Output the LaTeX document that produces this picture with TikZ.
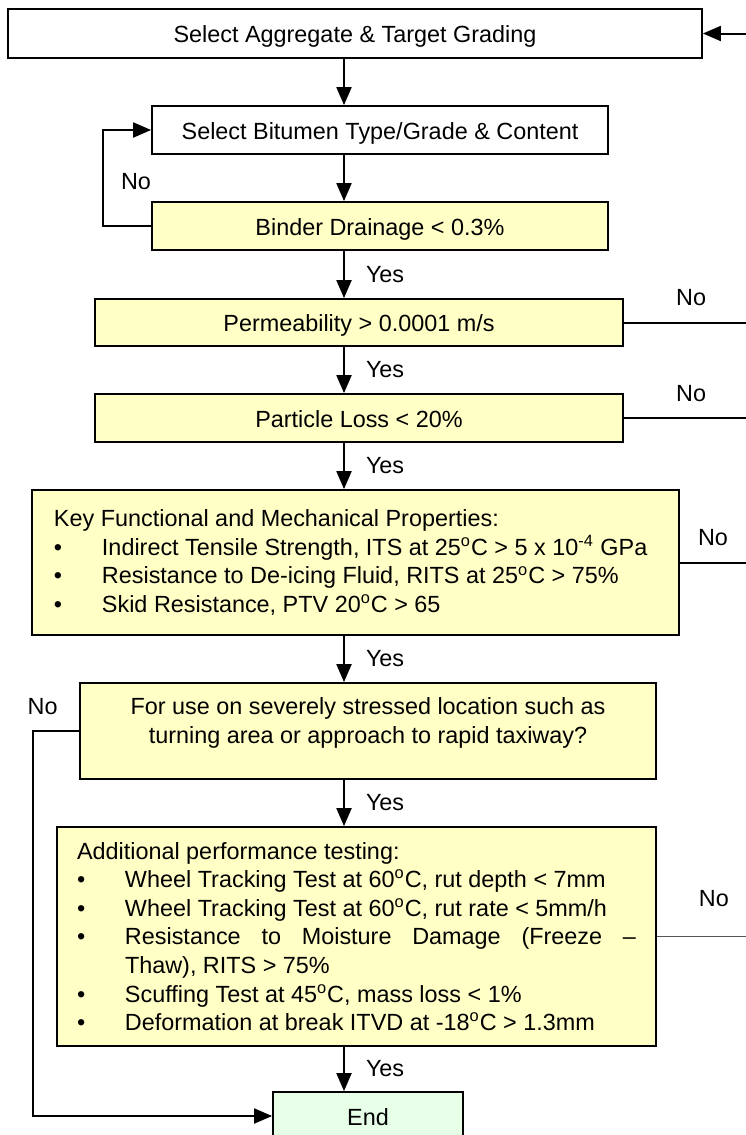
\documentclass[tikz,border=0pt]{standalone}
\usepackage{fontspec}
\setmainfont{Liberation Sans}
\usetikzlibrary{arrows.meta, positioning, calc}
\definecolor{flowYellow}{HTML}{FFFFC6}
\definecolor{flowGreen}{HTML}{E6FFE6}
\definecolor{flowGrey}{HTML}{555555}
\newcommand{\critem}[1]{\par\hangindent=24pt\hangafter=1\noindent\makebox[24pt][l]{\textbullet}#1}
\newcommand{\degC}{\textsuperscript{o}C}

\begin{document}
\begin{tikzpicture}[
        x=0.5pt, y=-0.5pt,
        font=\fontsize{11.7pt}{14.3pt}\selectfont,
        base/.style={rectangle, draw=black, line width=0.9pt, inner sep=0pt, minimum height=24pt, align=center},
        box/.style={base, fill=white, text height=9.9pt, text depth=0.5pt},
        check/.style={box, fill=flowYellow},
        panel/.style={base, fill=flowYellow},
        listbox/.style={panel, align=justify},
        endbox/.style={box, fill=flowGreen},
        arrow/.style={line width=1pt, -{Triangle[length=9pt, width=7.5pt]}},
        link/.style={line width=1pt},
        yes/.style={right=10.5pt, inner sep=0pt},
        no/.style={inner sep=0pt}
    ]
        \useasboundingbox (0,0) rectangle (745,1135);

        % --- Selection steps ---
        \node[box, minimum width=347pt, minimum height=24.5pt] (agg) at (355,33.5) {Select Aggregate \& Target Grading};
        \node[box, minimum width=228pt] (bit) at (380,130) {Select Bitumen Type/Grade \& Content};
        \node[check, minimum width=228pt] (drain) at (380,226) {Binder Drainage < 0.3\%};
        \node[check, minimum width=264pt, minimum height=23.5pt] (perm) at (359,322.5) {Permeability > 0.0001 m/s};
        \node[check, minimum width=264pt] (loss) at (359,418) {Particle Loss < 20\%};

        % --- Property checks ---
        \node[listbox, minimum width=323.5pt, minimum height=72.5pt, text width=301.5pt] (props) at (355.5,562.5) {\noindent Key Functional and Mechanical Properties:
            \critem{\mbox{Indirect Tensile Strength, ITS at 25\degC{} > 5 x 10\textsuperscript{-4} GPa}}
            \critem{Resistance to De-icing Fluid, RITS at 25\degC{} > 75\%}
            \critem{Skid Resistance, PTV 20\degC{} > 65}};
        \node[panel, minimum width=288pt, minimum height=48pt] (sev) at (368,731) {For use on severely stressed location such as\\turning area or approach to rapid taxiway?\\[-4pt]\mbox{}};
        \node[listbox, minimum width=299.5pt, minimum height=109.5pt, text width=279.5pt] (perf) at (356.5,936.5) {\noindent Additional performance testing:
            \critem{Wheel Tracking Test at 60\degC, rut depth < 7mm}
            \critem{Wheel Tracking Test at 60\degC, rut rate < 5mm/h}
            \critem{Resistance to Moisture Damage (Freeze --\linebreak Thaw), RITS > 75\%}
            \critem{Scuffing Test at 45\degC, mass loss < 1\%}
            \critem{Deformation at break ITVD at -18\degC{} > 1.3mm}};
        \node[endbox, minimum width=95pt] (fin) at (368,1116) {End};

        % --- Helper points ---
        \coordinate (axis) at (344,0);
        \coordinate (inR) at (746,33.5);
        \coordinate (permR) at (746,322.5);
        \coordinate (lossR) at (746,418);
        \coordinate (propsR) at (746,562.5);
        \coordinate (perfR) at (746,936.5);
        \coordinate (sevL) at (33,731);

        % --- Main chain ---
        \draw[arrow] (inR) -- (agg.east);
        \draw[arrow] (agg.south -| axis) -- (bit.north -| axis);
        \draw[arrow] (bit.south -| axis) -- (drain.north -| axis);
        \draw[arrow] (drain.west) -- ++(-48,0) |- node[no, pos=0.23, right=8.5pt] {No} (bit.west);
        \draw[arrow] (drain.south -| axis) -- node[yes] {Yes} (perm.north -| axis);
        \draw[arrow] (perm.south -| axis) -- node[yes] {Yes} (loss.north -| axis);
        \draw[arrow] (loss.south -| axis) -- node[yes] {Yes} (props.north -| axis);
        \draw[arrow] (props.south -| axis) -- node[yes] {Yes} (sev.north -| axis);
        \draw[arrow] (sev.south -| axis) -- node[yes] {Yes} (perf.north -| axis);
        \draw[arrow] (perf.south -| axis) -- node[yes] {Yes} (fin.north -| axis);

        % --- Failure branches ---
        \draw[link] (perm.east) -- node[no, pos=0.55, above=7.8pt] {No} (permR);
        \draw[link] (loss.east) -- node[no, pos=0.55, above=7.8pt] {No} (lossR);
        \draw[link] (props.east) -- node[no, above=7.8pt] {No} (propsR);
        \draw[link, line width=0.6pt, draw=flowGrey] (perf.east) -- node[no, pos=0.64, above=14.8pt, text=black] {No} (perfR);
        \draw[arrow] (sev.west) -- node[no, pos=0.79, above=7.8pt] {No} (sevL) |- (fin.west);
    \end{tikzpicture}
\end{document}
